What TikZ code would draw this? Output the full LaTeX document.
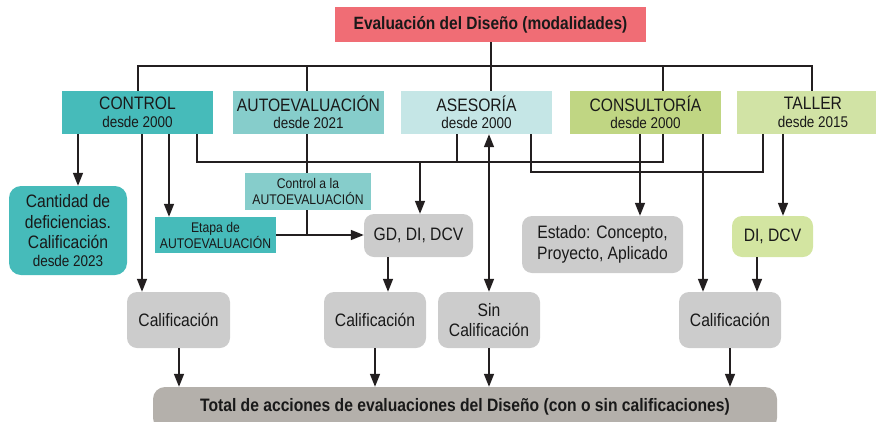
\documentclass[tikz,border=0pt]{standalone}
\usepackage{fontspec}
\setmainfont[FakeStretch=0.87]{Liberation Sans}
\usetikzlibrary{arrows.meta}
\definecolor{cTitle}{HTML}{F06D75}
\definecolor{cControl}{HTML}{46BBBA}
\definecolor{cAuto}{HTML}{86CDCB}
\definecolor{cAse}{HTML}{C5E6E6}
\definecolor{cCons}{HTML}{C0D683}
\definecolor{cTaller}{HTML}{D1E3A5}
\definecolor{cGray}{HTML}{CCCCCC}
\definecolor{cGreen}{HTML}{D3E5A1}
\definecolor{cTotal}{HTML}{B4B0AB}
\definecolor{cLine}{HTML}{231F20}
\newcommand{\bigf}{\fontsize{18}{20.5}\selectfont}
\newcommand{\midf}{\fontsize{15.5}{17}\selectfont}
\newcommand{\smf}{\fontsize{14}{16}\selectfont}
\tikzset{
  box/.style={draw=none, inner sep=0pt, align=center, text=black!90, font=\bigf},
  hdr/.style={box, minimum width=151pt, minimum height=43pt},
  rbox/.style={box, fill=cGray, rounded corners=10pt},
  ln/.style={draw=cLine, line width=1.6pt},
  arr/.style={ln, -{Triangle[length=13pt,width=10pt]}},
  darr/.style={ln, {Triangle[length=13pt,width=10pt]}-{Triangle[length=13pt,width=10pt]}},
}
\begin{document}
\begin{tikzpicture}[x=1pt,y=-1pt]
\useasboundingbox (0,0) rectangle (876,421);
% nodes
\node[box, fill=cTitle, minimum width=311pt, minimum height=35pt, font=\fontsize{17.8}{20}\selectfont\bfseries] (title) at (490.5,24.5) {Evaluación del Diseño (modalidades)};
\node[hdr, fill=cControl] (control) at (137.5,112.5) {CONTROL\\[-3pt]{\midf desde 2000}};
\node[hdr, fill=cAuto] (auto) at (308.5,112.5) {AUTOEVALUACIÓN\\[-3pt]{\midf desde 2021}};
\node[hdr, fill=cAse] (ase) at (476.5,112.5) {ASESORÍA\\[-3pt]{\midf desde 2000}};
\node[hdr, fill=cCons] (cons) at (645.5,112.5) {CONSULTORÍA\\[-3pt]{\midf desde 2000}};
\node[hdr, fill=cTaller, minimum width=152pt] (taller) at (813,112.5) {TALLER\\[-3pt]{\midf desde 2015}};

\node[box, fill=cControl, rounded corners=12pt, minimum width=118pt, minimum height=89pt] (cant) at (68,230.5) {Cantidad de\\deficiencias.\\Calificación\\[-3pt]{\midf desde 2023}};
\node[box, fill=cAuto, minimum width=126pt, minimum height=37pt, font=\smf] (ctrlauto) at (308,191.5) {Control a la\\AUTOEVALUACIÓN};
\node[box, fill=cControl, minimum width=121pt, minimum height=36pt, font=\smf] (etapa) at (215.5,235) {Etapa de\\AUTOEVALUACIÓN};
\node[rbox, minimum width=109pt, minimum height=43pt] (gd) at (418.5,235.5) {GD, DI, DCV};
\node[rbox, minimum width=161pt, minimum height=57pt] (estado) at (602.5,244.5) {Estado: Concepto,\\Proyecto, Aplicado};
\node[rbox, fill=cGreen, minimum width=81pt, minimum height=41pt] (didcv) at (772.5,236.5) {DI, DCV};

\node[rbox, minimum width=103pt, minimum height=56pt] (cal1) at (178.5,320) {Calificación};
\node[rbox, minimum width=102pt, minimum height=56pt] (cal2) at (375,320) {Calificación};
\node[rbox, minimum width=102pt, minimum height=56pt] (sincal) at (489,320) {Sin\\Calificación};
\node[rbox, minimum width=102pt, minimum height=56pt] (cal4) at (730,320) {Calificación};

\node[box, fill=cTotal, rounded corners=12pt, minimum width=624pt, minimum height=43pt, text depth=0pt] (total) at (465,408.5) {};
\node[box, font=\fontsize{18}{20}\selectfont\bfseries] (totaltxt) at (465,406.5) {Total de acciones de evaluaciones del Diseño (con o sin calificaciones)};

% top bus
\coordinate (busL) at (138,66);
\coordinate (busR) at (812,66);
\draw[ln] (control.north -| busL) -- (busL) -- (busR) -- (taller.north -| busR);
\draw[ln] (title.south -| 491,0) -- (ase.north -| 491,0);
\draw[ln] (auto.north -| 307,0) -- (307,66);
\draw[ln] (cons.north -| 663,0) -- (663,66);

% control outputs
\draw[arr] (control.south -| 78,0) -- (cant.north -| 78,0);
\draw[arr] (control.south -| 142,0) -- (cal1.north -| 142,0);
\draw[arr] (control.south -| 169,0) -- (etapa.north -| 169,0);
\draw[ln] (control.south -| 197,0) -- (197,162) -- (663,162) -- (cons.south -| 663,0);
\draw[ln] (ase.south -| 457,0) -- (457,162);
\coordinate (jgd) at (420,162);
\draw[arr] (jgd) -- (gd.north -| jgd);
\draw[ln] (ase.south -| 531,0) -- (531,172) -- (763,172) -- (taller.south -| 763,0);
\draw[darr] (ase.south -| 489,0) -- (sincal.north -| 489,0);
\draw[arr] (cons.south -| 640,0) -- (estado.north -| 640,0);
\draw[arr] (cons.south -| 703,0) -- (cal4.north -| 703,0);
\draw[arr] (taller.south -| 783,0) -- (didcv.north -| 783,0);
\draw[arr] (didcv.south -| 757,0) -- (cal4.north -| 757,0);

% autoevaluacion
\draw[ln] (auto.south -| 307,0) -- (ctrlauto.north -| 307,0);
\draw[ln] (ctrlauto.south -| 307,0) -- (307,235);
\draw[arr] (etapa.east |- 0,235) -- (gd.west |- 0,235);
\draw[arr] (gd.south -| 388,0) -- (cal2.north -| 388,0);

% to total
\draw[arr] (cal1.south -| 179,0) -- (total.north -| 179,0);
\draw[arr] (cal2.south -| 375,0) -- (total.north -| 375,0);
\draw[arr] (sincal.south -| 489,0) -- (total.north -| 489,0);
\draw[arr] (cal4.south -| 730,0) -- (total.north -| 730,0);
\end{tikzpicture}
\end{document}
